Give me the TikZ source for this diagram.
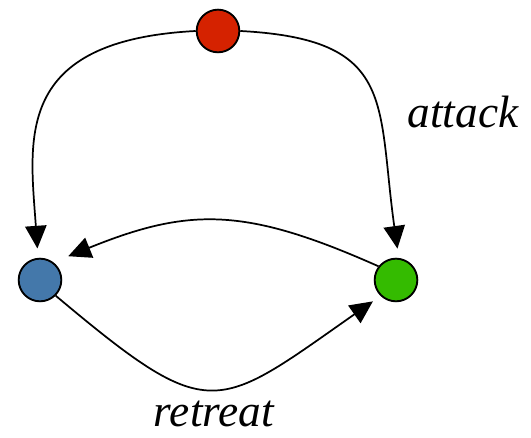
\documentclass[tikz,border=0pt]{standalone}
\usepackage{fontspec}
\setmainfont{Liberation Serif}
\usepackage{tikz}
\usetikzlibrary{arrows.meta}
\definecolor{topfill}{RGB}{213,34,0}
\definecolor{leftfill}{RGB}{68,120,170}
\definecolor{rightfill}{RGB}{52,187,0}
\tikzstyle{state} = [circle, 
minimum size=32pt, 
inner sep=0pt, 
draw=black, 
line width=1.4pt]
\tikzstyle{arrow} = [line width=1.3pt,
-{Triangle[length=17pt,width=16pt]},
shorten >=7pt]
\tikzstyle{lbl} = [font=\fontsize{34}{40}\selectfont\itshape, anchor=base]

\begin{document}
\begin{tikzpicture}[x=0.75pt, y=0.75pt]
\useasboundingbox (0,0) rectangle (531,438);

\node (topstate) [state, fill=topfill] at (218,407) {};
\node (leftstate) [state, fill=leftfill] at (40,158) {};
\node (rightstate) [state, fill=rightfill] at (396,158) {};

\node (attacklbl) [lbl] at (463,310) {attack};
\node (retreatlbl) [lbl] at (214,11) {retreat};

\draw [arrow] (topstate.west) to[out=183, in=94, out looseness=1.7, in looseness=1.1] (leftstate.95);
\draw [arrow] (topstate.east) to[out=-3, in=98, looseness=1.45] (rightstate.83);
\draw [arrow, shorten >=12pt] (rightstate.142) to[out=156, in=22, looseness=1.15] (leftstate.53);
\draw [arrow] (leftstate.-45) to[out=-40, in=215, looseness=1.6] (rightstate.226);

\end{tikzpicture}
\end{document}
